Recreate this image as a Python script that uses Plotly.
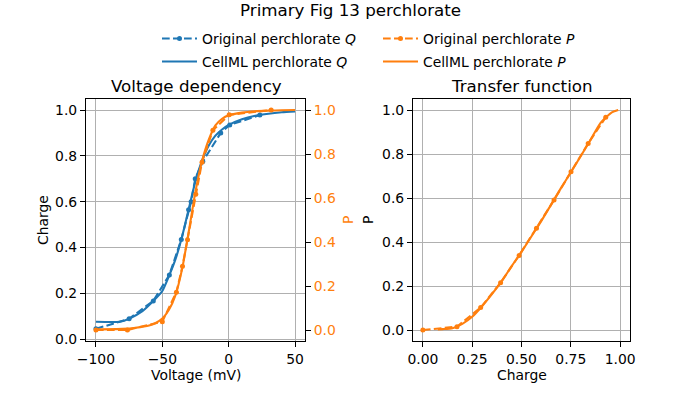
import plotly.graph_objects as go

# ---- data ----
orig_q_v = [-100, -75, -56.8, -44.7, -35.7, -30.2, -28.3, -25.2, -19.5, -6, 0.8, 23.5]
orig_q = [0.045, 0.089, 0.167, 0.28, 0.435, 0.565, 0.6, 0.7, 0.775, 0.9, 0.935, 0.978]

orig_p_v = [-100, -76.3, -50, -39.4, -34.8, -31, -24.8, -20.1, -11.9, 0.4, 32]
orig_p = [0.0, 0.0, 0.038, 0.172, 0.29, 0.41, 0.617, 0.763, 0.908, 0.978, 1.0]

cell_q_v = [-100, -82, -75, -65, -57, -50, -45, -40, -35, -30, -25, -20, -15, -10, -5, 0, 10, 20, 30, 40, 50]
cell_q = [0.076, 0.076, 0.089, 0.122, 0.165, 0.21, 0.275, 0.35, 0.45, 0.57, 0.69, 0.78, 0.845,
          0.888, 0.915, 0.935, 0.96, 0.975, 0.984, 0.99, 0.994]

cell_p_v = [-100, -80, -70, -60, -55, -50, -45, -40, -35, -30, -25, -20, -15, -10, -5, 0, 10, 20, 30, 40, 50]
cell_p = [0.003, 0.005, 0.01, 0.02, 0.032, 0.052, 0.092, 0.16, 0.28, 0.45, 0.63, 0.77, 0.865,
          0.93, 0.96, 0.976, 0.988, 0.994, 0.997, 0.999, 1.0]

tf_orig_q = [0, 0.173, 0.293, 0.394, 0.488, 0.576, 0.665, 0.751, 0.838, 0.927]
tf_orig_p = [0, 0.015, 0.102, 0.215, 0.339, 0.463, 0.591, 0.719, 0.848, 0.967]

tf_cell_q = [0.076, 0.1, 0.15, 0.2, 0.25, 0.3, 0.35, 0.4, 0.45, 0.5, 0.55, 0.6, 0.65, 0.7, 0.75,
             0.8, 0.85, 0.9, 0.93, 0.96, 0.99]
tf_cell_p = [0.003, 0.004, 0.008, 0.028, 0.06, 0.108, 0.163, 0.222, 0.29, 0.355, 0.425, 0.495,
             0.57, 0.645, 0.717, 0.79, 0.865, 0.94, 0.968, 0.99, 1.0]

BLUE = "#1f77b4"
ORANGE = "#ff7f0e"
FONT = "DejaVu Sans"
DASH = "7.7px,3.3px"
W, H = 700, 400

def px(x):
    return x / W

def py(y):
    return 1 - y / H

fig = go.Figure()

fig.add_trace(go.Scatter(x=orig_q_v, y=orig_q, mode="lines+markers", name="Original perchlorate <i>Q</i>",
                         line=dict(color=BLUE, width=2.1, dash=DASH), marker=dict(size=5, color=BLUE),
                         xaxis="x", yaxis="y", legend="legend"))
fig.add_trace(go.Scatter(x=cell_q_v, y=cell_q, mode="lines", name="CellML perchlorate <i>Q</i>",
                         line=dict(color=BLUE, width=2.1, shape="spline", smoothing=0.6),
                         xaxis="x", yaxis="y", legend="legend2"))
fig.add_trace(go.Scatter(x=orig_p_v, y=orig_p, mode="lines+markers", name="Original perchlorate <i>P</i>",
                         line=dict(color=ORANGE, width=2.1, dash=DASH), marker=dict(size=5, color=ORANGE),
                         xaxis="x", yaxis="y2", legend="legend"))
fig.add_trace(go.Scatter(x=cell_p_v, y=cell_p, mode="lines", name="CellML perchlorate <i>P</i>",
                         line=dict(color=ORANGE, width=2.1, shape="spline", smoothing=0.6),
                         xaxis="x", yaxis="y2", legend="legend2"))
fig.add_trace(go.Scatter(x=tf_orig_q, y=tf_orig_p, mode="lines+markers", showlegend=False,
                         line=dict(color=ORANGE, width=2.1, dash=DASH), marker=dict(size=5, color=ORANGE),
                         xaxis="x2", yaxis="y3"))
fig.add_trace(go.Scatter(x=tf_cell_q, y=tf_cell_p, mode="lines", showlegend=False,
                         line=dict(color=ORANGE, width=2.1, shape="spline", smoothing=0.6),
                         xaxis="x2", yaxis="y3"))

axis_common = dict(showline=True, linecolor="black", linewidth=1.1, mirror=True,
                   ticks="outside", ticklen=5, tickwidth=1.1, tickcolor="black",
                   showgrid=True, gridcolor="#b0b0b0", gridwidth=1.1, zeroline=False,
                   tickfont=dict(family=FONT, size=13.9, color="black"), automargin=False)

ydom = [py(341), py(99)]

legend_common = dict(orientation="h", xanchor="left", yanchor="middle",
                     entrywidth=171, entrywidthmode="pixels", itemwidth=35,
                     font=dict(family=FONT, size=13.9), bgcolor="rgba(0,0,0,0)",
                     traceorder="normal")

fig.update_layout(
    width=W, height=H,
    margin=dict(l=0, r=0, t=0, b=0),
    plot_bgcolor="white", paper_bgcolor="white",
    font=dict(family=FONT, size=13.9, color="black"),
    xaxis=dict(domain=[px(86), px(305)], range=[-107.5, 57.5], tickvals=[-100, -50, 0, 50],
               ticktext=["\u2212100", "\u221250", "0", "50"], anchor="y", **axis_common),
    yaxis=dict(domain=ydom, range=[-0.008, 1.048], tickvals=[0, 0.2, 0.4, 0.6, 0.8, 1.0],
               tickformat=".1f", anchor="x", **axis_common),
    yaxis2=dict(overlaying="y", side="right", anchor="x", range=[-0.05, 1.05],
                tickvals=[0, 0.2, 0.4, 0.6, 0.8, 1.0], tickformat=".1f",
                showgrid=False, zeroline=False, showline=False,
                ticks="outside", ticklen=5, tickwidth=1.1, tickcolor="black",
                tickfont=dict(family=FONT, size=13.9, color=ORANGE), automargin=False),
    xaxis2=dict(domain=[px(413), px(630)], range=[-0.05, 1.05], tickvals=[0, 0.25, 0.5, 0.75, 1.0],
                tickformat=".2f", anchor="y3", **axis_common),
    yaxis3=dict(domain=ydom, range=[-0.05, 1.05], tickvals=[0, 0.2, 0.4, 0.6, 0.8, 1.0],
                tickformat=".1f", anchor="x2", **axis_common),
    legend=dict(x=px(157), y=py(39), **legend_common),
    legend2=dict(x=px(157), y=py(62), **legend_common),
    showlegend=True,
)

ann = [
    dict(text="Primary Fig 13 perchlorate", x=px(350), y=py(10), size=16.7, color="black", angle=0),
    dict(text="Voltage dependency", x=px(196), y=py(86), size=16.7, color="black", angle=0),
    dict(text="Transfer function", x=px(522), y=py(86), size=16.7, color="black", angle=0),
    dict(text="Voltage (mV)", x=px(196), y=py(375), size=13.9, color="black", angle=0),
    dict(text="Charge", x=px(522), y=py(375), size=13.9, color="black", angle=0),
    dict(text="Charge", x=px(43), y=py(220), size=13.9, color="black", angle=-90),
    dict(text="P", x=px(348), y=py(220), size=13.9, color=ORANGE, angle=-90),
    dict(text="P", x=px(368), y=py(220), size=13.9, color="black", angle=-90),
]
for a in ann:
    fig.add_annotation(text=a["text"], x=a["x"], y=a["y"], xref="paper", yref="paper",
                       xanchor="center", yanchor="middle", showarrow=False, textangle=a["angle"],
                       font=dict(family=FONT, size=a["size"], color=a["color"]))

fig.write_html("out.html")
